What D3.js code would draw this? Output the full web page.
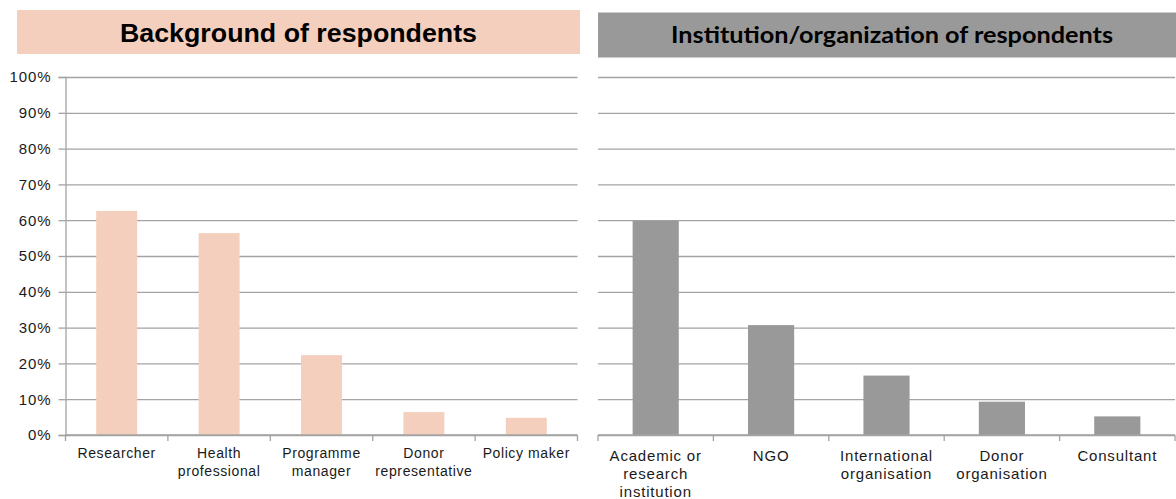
<!DOCTYPE html>
<html>
<head>
<meta charset="utf-8">
<script src="https://cdn.jsdelivr.net/npm/d3@7/dist/d3.min.js"></script>
<style>
  html, body { margin: 0; padding: 0; background: #fff; }
  svg { display: block; }
  text { font-family: "Liberation Sans", Arial, sans-serif; fill: #1a1a1a; }
</style>
</head>
<body>
<svg id="chart" width="1176" height="499"></svg>
<script>
// Panel 1: professional background of respondents
const backgroundCategories = [["Researcher"], ["Health", "professional"], ["Programme", "manager"], ["Donor", "representative"], ["Policy maker"]];
const backgroundValues = [0.626, 0.564, 0.223, 0.064, 0.048];

// Panel 2: institution / organisation of respondents
const institutionCategories = [["Academic or", "research", "institution"], ["NGO"], ["International", "organisation"], ["Donor", "organisation"], ["Consultant"]];
const institutionValues = [0.598, 0.307, 0.166, 0.093, 0.052];

const yTickValues = [0, 0.1, 0.2, 0.3, 0.4, 0.5, 0.6, 0.7, 0.8, 0.9, 1.0];

const svg = d3.select("#chart");
const gridColor = "#a3a3a3";
const y = d3.scaleLinear().domain([0, 1]).range([435, 77]);

function drawPanel(opts) {
  const { categories, values, x0, x1, barColor, title, titleBox, titleFont, titleColor, showYAxis, label } = opts;
  const g = svg.append("g");

  // Title banner
  g.append("rect")
    .attr("x", titleBox.x).attr("y", titleBox.y)
    .attr("width", titleBox.w).attr("height", titleBox.h)
    .attr("fill", titleBox.fill);
  const t = g.append("text")
    .attr("x", titleBox.x + titleBox.w / 2 + (titleBox.dx || 0))
    .attr("y", titleBox.y + titleBox.h / 2 + (titleBox.dy || 0))
    .attr("text-anchor", "middle")
    .attr("dominant-baseline", "central")
    .style("font-family", titleFont.family)
    .style("font-size", titleFont.size + "px")
    .style("font-weight", "bold")
    .style("fill", titleColor)
    .text(title);
  if (titleFont.length) t.attr("textLength", titleFont.length).attr("lengthAdjust", "spacingAndGlyphs");

  const idx = d3.range(categories.length);
  const x = d3.scaleBand().domain(idx).range([x0, x1]).paddingInner(0.6).paddingOuter(0.3);
  const cat = d3.scaleBand().domain(idx).range([x0, x1]).padding(0);

  // Horizontal gridlines
  g.append("g")
    .attr("transform", `translate(${x0},0)`)
    .call(d3.axisLeft(y).tickValues(yTickValues).tickSize(-(x1 - x0)).tickFormat(""))
    .call(a => a.select(".domain").remove())
    .call(a => a.selectAll("line").attr("stroke", gridColor).attr("stroke-width", 1.3));

  // Bars
  g.append("g").selectAll("rect").data(values).join("rect")
    .attr("x", (d, i) => x(i))
    .attr("y", d => y(d))
    .attr("width", x.bandwidth())
    .attr("height", d => y(0) - y(d))
    .attr("fill", barColor);

  // Y axis with percentage labels
  if (showYAxis) {
    const ya = g.append("g")
      .attr("transform", `translate(${x0},0)`)
      .call(d3.axisLeft(y).tickValues(yTickValues).tickSize(7).tickPadding(7).tickFormat(d3.format(".0%")));
    ya.select(".domain").attr("stroke", gridColor).attr("stroke-width", 1.3);
    ya.selectAll("line").attr("stroke", gridColor).attr("stroke-width", 1.3);
    ya.selectAll("text")
      .style("font-family", "'Liberation Sans', Arial, sans-serif")
      .style("font-size", "15px").style("letter-spacing", "0.9px").style("fill", "#1a1a1a");
  }

  // X axis: baseline with ticks at category boundaries
  const bounds = idx.map(i => cat(i)).concat([x1]);
  g.append("line")
    .attr("x1", x0).attr("x2", x1).attr("y1", y(0)).attr("y2", y(0))
    .attr("stroke", gridColor).attr("stroke-width", 1.3);
  g.append("g").selectAll("line").data(bounds).join("line")
    .attr("x1", d => d).attr("x2", d => d)
    .attr("y1", y(0)).attr("y2", y(0) + 6)
    .attr("stroke", gridColor).attr("stroke-width", 1.3);

  // Category labels (multi-line)
  const lbl = g.append("g").selectAll("text").data(categories).join("text")
    .attr("text-anchor", "middle")
    .style("font-size", label.size + "px")
    .style("letter-spacing", label.spacing + "px")
    .attr("transform", (d, i) => `translate(${cat(i) + cat.bandwidth() / 2},${y(0) + label.offset})`);
  lbl.selectAll("tspan").data(d => d).join("tspan")
    .attr("x", 0)
    .attr("dy", (d, i) => i === 0 ? 0 : 18)
    .text(d => d);
}

drawPanel({
  categories: backgroundCategories,
  values: backgroundValues,
  x0: 65.5, x1: 577.5,
  barColor: "#f5cfbd",
  title: "Background of respondents",
  titleBox: { x: 17, y: 10, w: 563, h: 44, fill: "#f5cfbd", dx: 0, dy: 1 },
  titleFont: { family: "'Liberation Sans', Arial, sans-serif", size: 26, length: 357 },
  titleColor: "#000",
  showYAxis: true,
  label: { size: 14, spacing: 0.6, offset: 23 }
});

drawPanel({
  categories: institutionCategories,
  values: institutionValues,
  x0: 598, x1: 1175,
  barColor: "#999999",
  title: "Institution/organization of respondents",
  titleBox: { x: 598, y: 12.5, w: 578, h: 45, fill: "#999999", dx: 5, dy: -1 },
  titleFont: { family: "Lato, 'Open Sans', sans-serif", size: 22, length: 442 },
  titleColor: "#000",
  showYAxis: false,
  label: { size: 15, spacing: 0.8, offset: 26 }
});
</script>
</body>
</html>
